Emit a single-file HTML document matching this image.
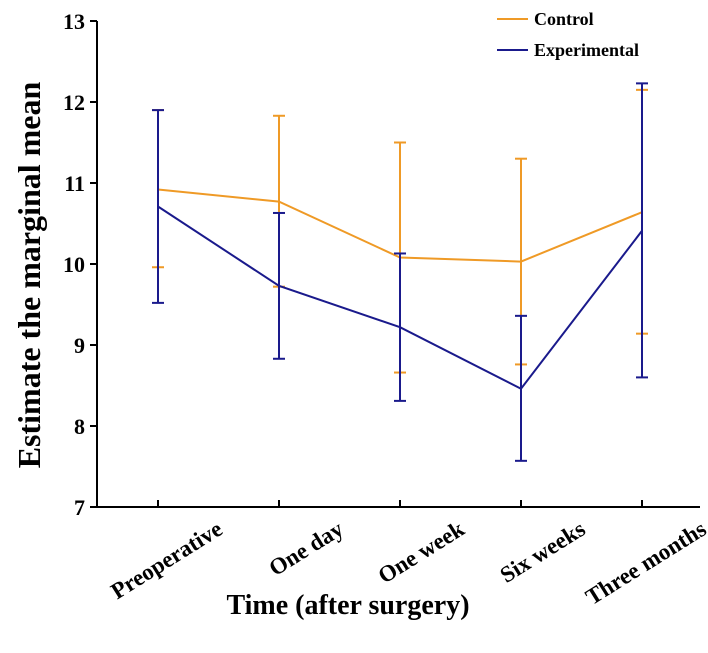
<!DOCTYPE html>
<html><head><meta charset="utf-8"><style>
body{margin:0;background:#fff}
svg text{font-family:"Liberation Serif",serif;font-weight:bold;fill:#000}
</style></head><body>
<svg width="708" height="648" viewBox="0 0 708 648">
<g id="axes"></g><g id="series"></g>
<g>
<line x1="497" y1="19" x2="528" y2="19" stroke="#ef9a26" stroke-width="2"/>
<text x="534" y="25" font-size="18">Control</text>
<line x1="497" y1="50" x2="528" y2="50" stroke="#1a1a8c" stroke-width="2"/>
<text x="534" y="56" font-size="18">Experimental</text>
</g>
<text x="348" y="614" font-size="28" text-anchor="middle">Time (after surgery)</text>
<text transform="translate(40,275) rotate(-90)" font-size="32" text-anchor="middle">Estimate the marginal mean</text>
</svg>
<script>
const categories=["Preoperative","One day","One week","Six weeks","Three months"];
const yTicks=[7,8,9,10,11,12,13];
const controlMean=[10.92,10.77,10.08,10.03,10.64];
const controlLow=[9.96,9.72,8.66,8.76,9.14];
const controlHigh=[11.9,11.83,11.5,11.3,12.15];
const expMean=[10.71,9.73,9.22,8.46,10.41];
const expLow=[9.52,8.83,8.31,7.57,8.6];
const expHigh=[11.9,10.63,10.13,9.36,12.23];
const NS="http://www.w3.org/2000/svg";
const x0=97,y0=507,yTop=21,xEnd=700;
const xs=i=>158+i*121;
const ys=v=>y0-(v-7)*(y0-yTop)/6;
function mk(t,a,p){const e=document.createElementNS(NS,t);for(const k in a)e.setAttribute(k,a[k]);p.appendChild(e);return e;}
const ax=document.getElementById('axes');
const yl=mk('line',{x1:x0,y1:yTop,x2:x0,y2:y0,stroke:'#000','stroke-width':2},ax);


const xl=mk('line',{x1:x0,y1:y0,x2:xEnd,y2:y0,stroke:'#000','stroke-width':2},ax);


yTicks.forEach(v=>{const y=ys(v);
mk('line',{x1:x0-7,y1:y,x2:x0,y2:y,stroke:'#000','stroke-width':2},ax);
const t=mk('text',{x:x0-12,y:y+8,'font-size':22,'text-anchor':'end'},ax);t.textContent=v;

});
categories.forEach((c,i)=>{const x=xs(i);
mk('line',{x1:x,y1:y0,x2:x,y2:y0-7,stroke:'#000','stroke-width':2},ax);
const t=mk('text',{transform:`translate(${x+66},${y0+26}) rotate(-32)`,'font-size':23,'text-anchor':'end'},ax);t.textContent=c;

});
const sg=document.getElementById('series');
function series(mean,lo,hi,col,name){
const g=mk('g',{},sg);


mean.forEach((m,i)=>{const x=xs(i);
mk('line',{x1:x,y1:ys(lo[i]),x2:x,y2:ys(hi[i]),stroke:col,'stroke-width':2},g);
mk('line',{x1:x-6,y1:ys(lo[i]),x2:x+6,y2:ys(lo[i]),stroke:col,'stroke-width':2},g);
mk('line',{x1:x-6,y1:ys(hi[i]),x2:x+6,y2:ys(hi[i]),stroke:col,'stroke-width':2},g);});
const p=mk('polyline',{points:mean.map((m,i)=>xs(i)+','+ys(m)).join(' '),fill:'none',stroke:col,'stroke-width':2},g);

}
series(controlMean,controlLow,controlHigh,'#ef9a26','control-series');
series(expMean,expLow,expHigh,'#1a1a8c','experimental-series');
</script>
</body></html>
